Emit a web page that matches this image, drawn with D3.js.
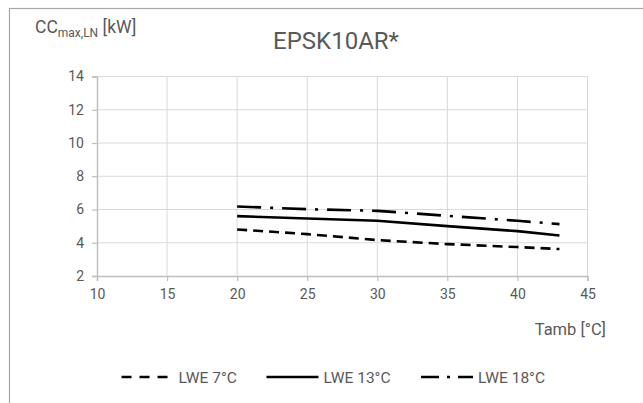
<!DOCTYPE html>
<html>
<head>
<meta charset="utf-8">
<script src="https://cdn.jsdelivr.net/npm/d3@7"></script>
<style>
  body { margin: 0; background: #fff; }
  svg { display: block; font-family: Roboto, "Noto Sans", sans-serif; }
</style>
</head>
<body>
<svg id="chart" width="643" height="403"></svg>
<script>
// values
const tamb = [20, 25, 30, 35, 40, 43];
const lwe7 = [4.8, 4.52, 4.16, 3.92, 3.74, 3.62];
const lwe13 = [5.6, 5.46, 5.32, 5.0, 4.7, 4.44];
const lwe18 = [6.18, 6.02, 5.92, 5.62, 5.32, 5.12];
const seriesNames = ['LWE 7°C', 'LWE 13°C', 'LWE 18°C'];
const xTicks = [10, 15, 20, 25, 30, 35, 40, 45];
const yTicks = [2, 4, 6, 8, 10, 12, 14];

const series = [
  { name: seriesNames[0], values: lwe7, dash: '10,6' },
  { name: seriesNames[1], values: lwe13, dash: null },
  { name: seriesNames[2], values: lwe18, dash: '24,9,3,9' }
];

const svg = d3.select('#chart');
const grey = '#595959';

// outer chart border
svg.append('rect')
  .attr('x', 9.5).attr('y', 8.5)
  .attr('width', 660).attr('height', 420)
  .attr('fill', 'none')
  .attr('stroke', '#a6a6a6')
  .attr('stroke-width', 1.2);

const x = d3.scaleLinear().domain([10, 45]).range([97, 587.5]);
const y = d3.scaleLinear().domain([2, 14]).range([276, 76.5]);

// grid
svg.append('g')
  .selectAll('line.h')
  .data(yTicks.slice(1))
  .enter().append('line')
  .attr('x1', x(10)).attr('x2', x(45))
  .attr('y1', d => y(d)).attr('y2', d => y(d))
  .attr('stroke', '#d9d9d9').attr('stroke-width', 1);

svg.append('g')
  .selectAll('line.v')
  .data(xTicks.slice(1))
  .enter().append('line')
  .attr('x1', d => x(d)).attr('x2', d => x(d))
  .attr('y1', y(2)).attr('y2', y(14))
  .attr('stroke', '#d9d9d9').attr('stroke-width', 1);

// axes
const xAxis = svg.append('g')
  .attr('transform', `translate(0,${y(2)})`)
  .call(d3.axisBottom(x).tickValues(xTicks).tickSize(5).tickPadding(8));
const yAxis = svg.append('g')
  .attr('transform', `translate(${x(10)},0)`)
  .call(d3.axisLeft(y).tickValues(yTicks).tickSize(5).tickPadding(8));

[xAxis, yAxis].forEach(g => {
  g.select('.domain').attr('stroke', '#bfbfbf').attr('stroke-width', 1.5);
  g.selectAll('.tick line').attr('stroke', '#bfbfbf').attr('stroke-width', 1.2);
  g.selectAll('.tick text')
    .attr('fill', grey)
    .style('font-size', '14px')
    .style('font-family', 'Roboto, sans-serif');
});

// lines
const line = d3.line()
  .x((d, i) => x(tamb[i]))
  .y(d => y(d));

svg.append('g')
  .selectAll('path')
  .data(series)
  .enter().append('path')
  .attr('d', d => line(d.values))
  .attr('fill', 'none')
  .attr('stroke', '#000')
  .attr('stroke-width', 2.6)
  .attr('stroke-dasharray', d => d.dash);

// title
svg.append('text')
  .attr('x', 336).attr('y', 49)
  .attr('text-anchor', 'middle')
  .attr('fill', grey)
  .style('font-size', '24px')
  .text('EPSK10AR*');

// y axis title
const yt = svg.append('text')
  .attr('x', 35).attr('y', 33)
  .attr('fill', grey)
  .style('font-size', '17.5px');
yt.append('tspan').text('CC');
yt.append('tspan').attr('dy', 4).style('font-size', '12px').text('max,LN');
yt.append('tspan').attr('dy', -4).text(' [kW]');

// x axis title
svg.append('text')
  .attr('x', 606).attr('y', 335)
  .attr('text-anchor', 'end')
  .attr('fill', grey)
  .style('font-size', '16.5px')
  .text('Tamb [°C]');

// legend
const legendX = [121.5, 266.5, 421];
const legend = svg.append('g')
  .selectAll('g')
  .data(series)
  .enter().append('g')
  .attr('transform', (d, i) => `translate(${legendX[i]},377)`);

legend.append('line')
  .attr('x1', 0).attr('x2', 52)
  .attr('y1', 0).attr('y2', 0)
  .attr('stroke', '#000')
  .attr('stroke-width', 2.6)
  .attr('stroke-dasharray', (d, i) => i === 0 ? '10,8' : (i === 2 ? '18,8,3,8' : null));

legend.append('text')
  .attr('x', 57).attr('y', 5.5)
  .attr('fill', grey)
  .style('font-size', '15.5px')
  .text(d => d.name);
</script>
</body>
</html>
